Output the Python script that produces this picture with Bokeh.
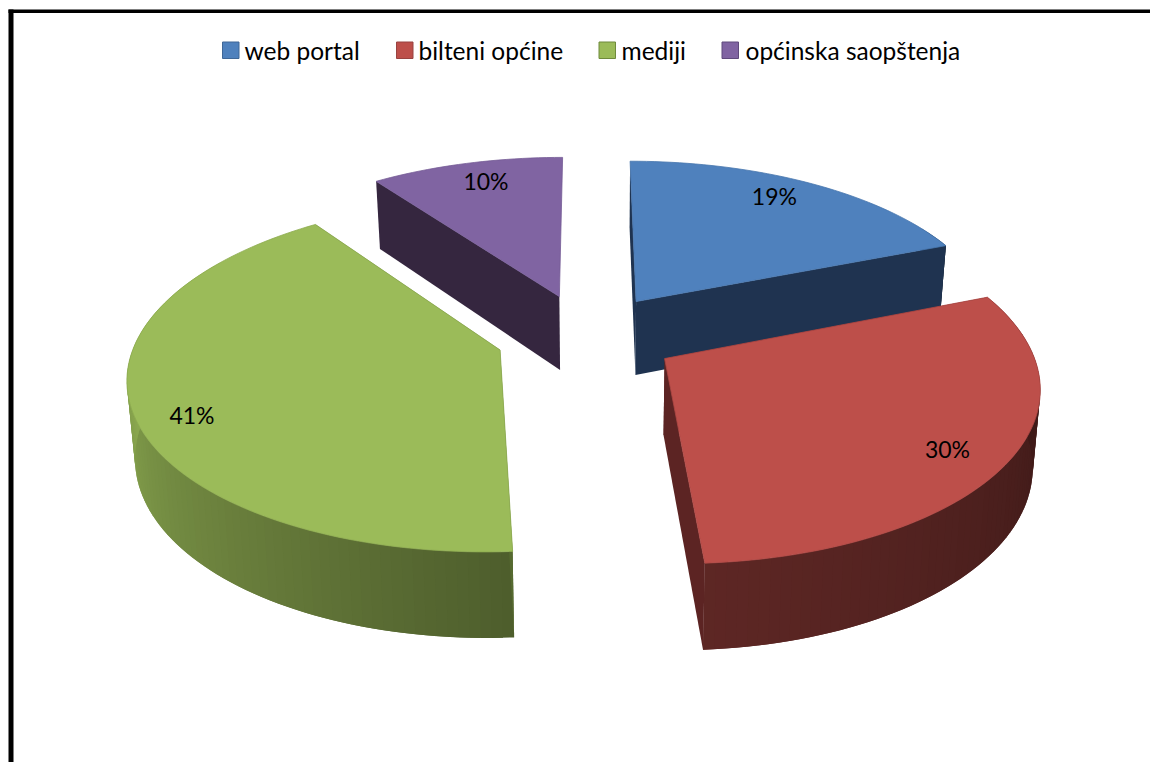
import math
from bokeh.core.properties import value
from bokeh.embed import file_html
from bokeh.models import ColumnDataSource, Range1d
from bokeh.plotting import figure
from bokeh.resources import INLINE

# Chart content
categories = ["web portal", "bilteni općine", "mediji", "općinska saopštenja"]
shares = [19, 30, 41, 10]
colors = ["#4f81bd", "#bd4f4a", "#9bbb59", "#8064a2"]
swatch_borders = ["#3f6797", "#984340", "#6f8a3c", "#5f4a7c"]
wall_colors = ["#1f3350", "#5c2423", "#566a30", "#35263f"]
label_radius = [0.80, 0.90, 0.85, 0.85]
label_nudge_x = [-3, -25, 2, 7]
label_nudge_y = [-9, -1, 13, 0]
FONT = "Lato"

# Projection of the exploded, tilted pie
VX, VY = 586.0, 335.0      # projection centre in page pixels
RX, RY = 363.0, 169.0      # horizontal and vertical radius scale
PERSP = 0.141              # depth foreshortening
EXPLODE = 0.25             # slice offset as a share of the radius


def project(wx, wy):
    s = 1.0 / (1.0 + PERSP * wy)
    return VX + wx * RX * s, VY - wy * RY * s


def extrude(x, y):
    # lower edge of the pie's side for a point on the top face
    return x + (600.0 - x) * 0.017, y + 75.0 + (y - 330.0) * 0.05


def shade(color, f):
    rgb = [int(color[i:i + 2], 16) for i in (1, 3, 5)]
    return "#%02x%02x%02x" % tuple(min(255, int(c * f)) for c in rgb)


def rim_factor(deg):
    # the side gets lighter going clockwise from the right to the left of the pie
    if deg < 176.0:
        return max(0.30, 0.33 + (deg - 90.0) * 0.00198)
    return 0.50 + (deg - 176.0) * 0.00425


p = figure(width=1150, height=762, output_backend="svg", toolbar_location=None,
           x_range=Range1d(0, 1150), y_range=Range1d(762, 0),
           x_axis_type=None, y_axis_type=None, min_border=0,
           background_fill_color="white", border_fill_color="white",
           outline_line_color=None)
p.grid.visible = False

# Black frame along the top and left of the page
p.quad(left=[8, 8], right=[1150, 13], top=[9, 9], bottom=[12.5, 762],
       fill_color="black", line_color=None)

# Slice geometry, going clockwise from twelve o'clock
start = 0.0
slices = []
for i, share in enumerate(shares):
    end = start + share * 3.6
    mid = math.radians((start + end) / 2)
    slices.append(dict(i=i, start=start, end=end,
                       ox=EXPLODE * math.sin(mid), oy=EXPLODE * math.cos(mid)))
    start = end


def rim_point(sl, deg, r=1.0):
    a = math.radians(deg)
    return project(sl["ox"] + r * math.sin(a), sl["oy"] + r * math.cos(a))


# Back slices first so the front ones overlap them
for sl in sorted(slices, key=lambda s: -s["oy"]):
    i = sl["i"]
    n = max(8, int((sl["end"] - sl["start"]) / 1.5))
    degs = [sl["start"] + (sl["end"] - sl["start"]) * k / n for k in range(n + 1)]
    rim = [rim_point(sl, d) for d in degs]
    apex = project(sl["ox"], sl["oy"])

    # curved side: bands overlap the next one so no seams show;
    # the far part of the rim is out of view and gets no band
    xs, ys, cols = [], [], []
    for k in range(n):
        if math.cos(math.radians(degs[k])) > 0.5:
            continue
        a, b = rim[k], rim[min(k + 2, n)]
        quad_pts = [a, b, extrude(*b), extrude(*a)]
        xs.append([q[0] for q in quad_pts])
        ys.append([q[1] for q in quad_pts])
        cols.append(shade(colors[i], rim_factor((degs[k] + degs[k + 1]) / 2)))
    if sl["start"] <= 100:
        xs, ys, cols = xs[::-1], ys[::-1], cols[::-1]
    band = ColumnDataSource(dict(xs=xs, ys=ys, c=cols))
    p.patches("xs", "ys", source=band, fill_color="c", line_color=None)

    # radial walls; the one closing the circle at twelve o'clock faces away
    edges = [rim[0]] if sl["end"] >= 359.9 else [rim[0], rim[-1]]
    for edge in edges:
        pts = [apex, edge, extrude(*edge), extrude(*apex)]
        p.patch([q[0] for q in pts], [q[1] for q in pts], fill_color=wall_colors[i],
                line_color=None)

    # top face
    pts = [apex] + rim
    p.patch([q[0] for q in pts], [q[1] for q in pts], fill_color=colors[i],
            line_color=shade(colors[i], 0.92), line_width=0.8)

# Percentage labels
for sl in slices:
    i = sl["i"]
    mid = (sl["start"] + sl["end"]) / 2
    lx, ly = rim_point(sl, mid, label_radius[i])
    p.text([lx + label_nudge_x[i]], [ly + label_nudge_y[i]], text=[f"{shares[i]}%"],
           text_font=value(FONT), text_font_size="23px", text_color="black",
           text_align="center", text_baseline="middle")

# Legend row
swatch_left = [222, 396, 598.5, 721.5]
text_left = [244, 418, 621, 745]
p.quad(left=swatch_left, right=[x + 16.5 for x in swatch_left], top=[41.5] * 4,
       bottom=[58] * 4, fill_color=colors, line_color=swatch_borders, line_width=1)
p.text(text_left, [49.5] * 4, text=categories, text_font=value(FONT),
       text_font_size="24.5px", text_color="black", text_align="left",
       text_baseline="middle")

open("out.html", "w").write(file_html(p, INLINE))
